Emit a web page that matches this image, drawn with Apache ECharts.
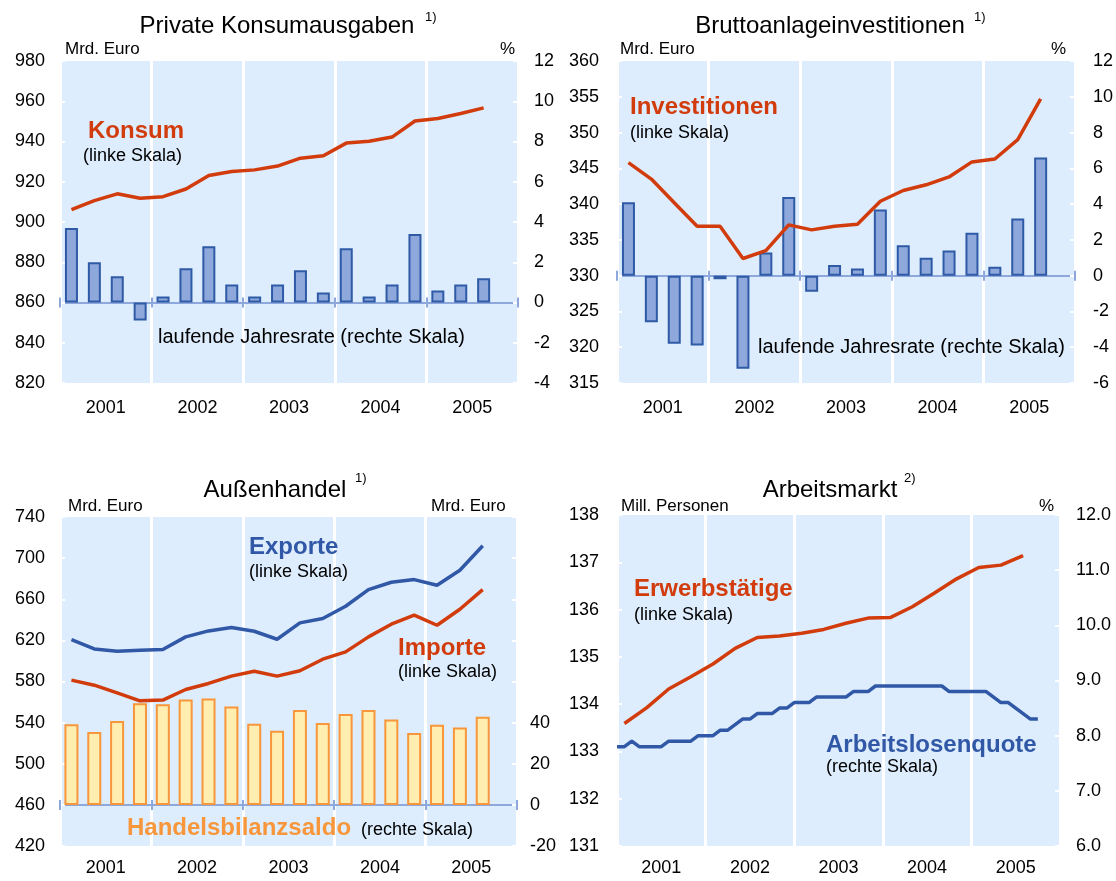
<!DOCTYPE html>
<html>
<head>
<meta charset="utf-8">
<script src="https://cdn.jsdelivr.net/npm/echarts@6/dist/echarts.min.js"></script>
<style>
  html, body { margin: 0; padding: 0; background: #fff; }
  #chart { width: 1116px; height: 881px; }
</style>
</head>
<body>
<div id="chart"></div>
<script>
const years = ['2001', '2002', '2003', '2004', '2005'];
const quarters = [];
years.forEach(y => ['Q1', 'Q2', 'Q3', 'Q4'].forEach(q => quarters.push(y + q)));

// Private Konsumausgaben, Mrd. Euro (linke Skala)
const konsum = [906.1, 910.6, 914.0, 911.8, 912.6, 916.4, 923.1, 925.1, 925.9, 927.8,
  931.7, 932.9, 939.2, 940.1, 942.2, 950.2, 951.4, 953.9, 956.7];
// laufende Jahresrate in % (rechte Skala)
const konsumRate = [3.7, 2.0, 1.3, -0.9, 0.3, 1.7, 2.8, 0.9, 0.3, 0.9,
  1.6, 0.5, 2.7, 0.3, 0.9, 3.4, 0.6, 0.9, 1.2];

// Bruttoanlageinvestitionen
const invest = [345.8, 343.5, 340.2, 336.9, 336.9, 332.4, 333.5, 337.1, 336.4, 336.9,
  337.2, 340.4, 341.9, 342.7, 343.8, 345.9, 346.3, 349.0, 354.7];
const investRate = [4.1, -2.6, -3.8, -3.9, -0.2, -5.2, 1.3, 4.4, -0.9, 0.6,
  0.4, 3.7, 1.7, 1.0, 1.4, 2.4, 0.5, 3.2, 6.6];

// Außenhandel
const exporte = [620.8, 611.7, 609.5, 610.4, 611.1, 623.4, 629.2, 632.5, 628.9, 621.1,
  637.0, 641.2, 653.2, 669.4, 676.5, 679.1, 673.6, 688.2, 712.1];
const importe = [581.3, 576.4, 569.0, 561.2, 561.9, 572.2, 578.1, 585.2, 590.0, 585.2,
  590.4, 601.7, 608.8, 623.4, 635.7, 644.5, 634.7, 650.3, 669.4];
const saldo = [39.2, 35.5, 40.8, 49.4, 48.9, 51.3, 51.7, 47.8, 39.4, 36.1,
  46.2, 39.8, 44.2, 46.2, 41.5, 35.0, 39.0, 37.6, 42.9];

// Arbeitsmarkt: Erwerbstätige (quartalsweise, Mill.), Arbeitslosenquote (monatlich, %)
const erwerb = [133.59, 133.92, 134.32, 134.58, 134.85, 135.18, 135.41, 135.44, 135.50, 135.58,
  135.71, 135.82, 135.83, 136.06, 136.35, 136.65, 136.89, 136.94, 137.14];
const quote = [7.8, 7.8, 7.9, 7.8, 7.8, 7.8, 7.8, 7.9, 7.9, 7.9, 7.9, 8.0,
  8.0, 8.0, 8.1, 8.1, 8.2, 8.3, 8.3, 8.4, 8.4, 8.4, 8.5, 8.5,
  8.6, 8.6, 8.6, 8.7, 8.7, 8.7, 8.7, 8.7, 8.8, 8.8, 8.8, 8.9,
  8.9, 8.9, 8.9, 8.9, 8.9, 8.9, 8.9, 8.9, 8.9, 8.8, 8.8, 8.8,
  8.8, 8.8, 8.8, 8.7, 8.6, 8.6, 8.5, 8.4, 8.3, 8.3];

const font = "'Liberation Sans', Arial, sans-serif";
const red = '#d23c0c';
const blue = '#3058a6';
const orange = '#f7963a';
const axisBlue = '#8fa8dc';

const grids = [
  { left: 60, top: 61, width: 458, height: 322 },
  { left: 617, top: 61, width: 458, height: 322 },
  { left: 60, top: 517, width: 457, height: 329 },
  { left: 617, top: 515, width: 443, height: 331 }
].map(g => Object.assign(g, {
  show: true, backgroundColor: '#ddedfd', borderWidth: 0, containLabel: false, outerBoundsMode: 'none'
}));

const xAxis = [], yAxis = [], series = [];

// Jahresachse unten (Beschriftung + weiße Trennlinien)
function yearAxis(g, margin) {
  xAxis.push({
    gridIndex: g, type: 'category', data: years, position: 'bottom',
    axisLine: { show: false }, axisTick: { show: false },
    axisLabel: { color: '#000', fontSize: 18, fontFamily: font, margin: margin },
    splitLine: { show: true, interval: 0, lineStyle: { color: '#fff', width: 3 } }
  });
}
// Nulllinie mit Jahresstrichen
function zeroAxis(g, yIdx) {
  [false, true].forEach(inside => {
    xAxis.push({
      gridIndex: g, type: 'category', data: years, position: 'bottom',
      axisLine: { show: !inside, onZero: true, onZeroAxisIndex: yIdx, lineStyle: { color: axisBlue, width: 2 } },
      axisTick: { show: true, inside: inside, length: 5, lineStyle: { color: axisBlue, width: 2 } },
      axisLabel: { show: false }, splitLine: { show: false }
    });
  });
}
function quarterAxis(g) {
  xAxis.push({ gridIndex: g, type: 'category', data: quarters, show: false });
  return xAxis.length - 1;
}
function valAxis(g, pos, min, max, interval, margin, fmt) {
  yAxis.push({
    gridIndex: g, type: 'value', position: pos, min: min, max: max, interval: interval,
    axisLine: { show: false },
    axisTick: { show: true, inside: true, length: 5, lineStyle: { color: '#fff', width: 2 } },
    axisLabel: { color: '#000', fontSize: 18, fontFamily: font, margin: margin, formatter: fmt },
    splitLine: { show: false }
  });
  return yAxis.length - 1;
}
function bars(x, y, data, fill, border, w) {
  series.push({
    type: 'bar', xAxisIndex: x, yAxisIndex: y, data: data, barWidth: w,
    itemStyle: { color: fill, borderColor: border, borderWidth: 2 }
  });
}
function line(x, y, data, color) {
  series.push({
    type: 'line', xAxisIndex: x, yAxisIndex: y, data: data, symbol: 'none',
    lineStyle: { color: color, width: 3.5 }, z: 5
  });
}

// 1) Private Konsumausgaben
let l = valAxis(0, 'left', 820, 980, 20, 15);
let r = valAxis(0, 'right', -4, 12, 2, 16);
yearAxis(0, 16);
zeroAxis(0, r);
let q = quarterAxis(0);
bars(q, r, konsumRate, '#8fa8dc', '#2f5aa6', 13);
line(q, l, konsum, red);

// 2) Bruttoanlageinvestitionen
l = valAxis(1, 'left', 315, 360, 5, 18);
r = valAxis(1, 'right', -6, 12, 2, 18);
yearAxis(1, 16);
zeroAxis(1, r);
q = quarterAxis(1);
bars(q, r, investRate, '#8fa8dc', '#2f5aa6', 13);
line(q, l, invest, red);

// 3) Außenhandel
l = valAxis(2, 'left', 420, 740, 40, 15);
r = valAxis(2, 'right', -20, 140, 20, 13, v => (v > 40 ? '' : v));
yearAxis(2, 13);
zeroAxis(2, r);
q = quarterAxis(2);
bars(q, r, saldo, '#ffeeb0', orange, 14);
line(q, l, exporte, blue);
line(q, l, importe, red);

// 4) Arbeitsmarkt
l = valAxis(3, 'left', 131, 138, 1, 18);
r = valAxis(3, 'right', 6, 12, 1, 16, v => v.toFixed(1));
yearAxis(3, 13);
xAxis.push({ gridIndex: 3, type: 'value', min: 0, max: 60, show: false });
const m = xAxis.length - 1;
line(m, l, erwerb.map((v, k) => [3 * k + 1, v]), red);
line(m, r, quote.map((v, i) => [i, v]), blue);

function txt(x, y, text, size, color, weight, align) {
  return {
    type: 'text', x: x, y: y, silent: true, z: 10,
    style: {
      text: text, fill: color || '#000',
      font: (weight || 'normal') + ' ' + size + 'px ' + font,
      align: align || 'left', verticalAlign: 'middle'
    }
  };
}

const graphic = [
  txt(277, 26, 'Private Konsumausgaben', 24, '#000', 'normal', 'center'),
  txt(425, 17, '1)', 13),
  txt(65, 49, 'Mrd. Euro', 17),
  txt(500, 49, '%', 17),
  txt(88, 131, 'Konsum', 24, red, 'bold'),
  txt(83, 156, '(linke Skala)', 18),
  txt(158, 337, 'laufende Jahresrate (rechte Skala)', 20),

  txt(830, 26, 'Bruttoanlageinvestitionen', 24, '#000', 'normal', 'center'),
  txt(974, 17, '1)', 13),
  txt(620, 49, 'Mrd. Euro', 17),
  txt(1051, 49, '%', 17),
  txt(630, 107, 'Investitionen', 24, red, 'bold'),
  txt(630, 133, '(linke Skala)', 18),
  txt(758, 347, 'laufende Jahresrate (rechte Skala)', 20),

  txt(275, 490, 'Außenhandel', 24, '#000', 'normal', 'center'),
  txt(355, 478, '1)', 13),
  txt(68, 506, 'Mrd. Euro', 17),
  txt(431, 506, 'Mrd. Euro', 17),
  txt(249, 547, 'Exporte', 24, blue, 'bold'),
  txt(249, 572, '(linke Skala)', 18),
  txt(398, 648, 'Importe', 24, red, 'bold'),
  txt(398, 672, '(linke Skala)', 18),
  txt(127, 828, 'Handelsbilanzsaldo', 24, orange, 'bold'),
  txt(361, 830, '(rechte Skala)', 18),

  txt(830, 490, 'Arbeitsmarkt', 24, '#000', 'normal', 'center'),
  txt(904, 478, '2)', 13),
  txt(621, 506, 'Mill. Personen', 17),
  txt(1039, 506, '%', 17),
  txt(634, 589, 'Erwerbstätige', 24, red, 'bold'),
  txt(634, 615, '(linke Skala)', 18),
  txt(826, 745, 'Arbeitslosenquote', 24, blue, 'bold'),
  txt(826, 767, '(rechte Skala)', 18)
];

const chart = echarts.init(document.getElementById('chart'));
chart.setOption({
  animation: false,
  backgroundColor: '#fff',
  textStyle: { fontFamily: font },
  grid: grids,
  xAxis: xAxis,
  yAxis: yAxis,
  series: series,
  graphic: graphic
});
</script>
</body>
</html>
